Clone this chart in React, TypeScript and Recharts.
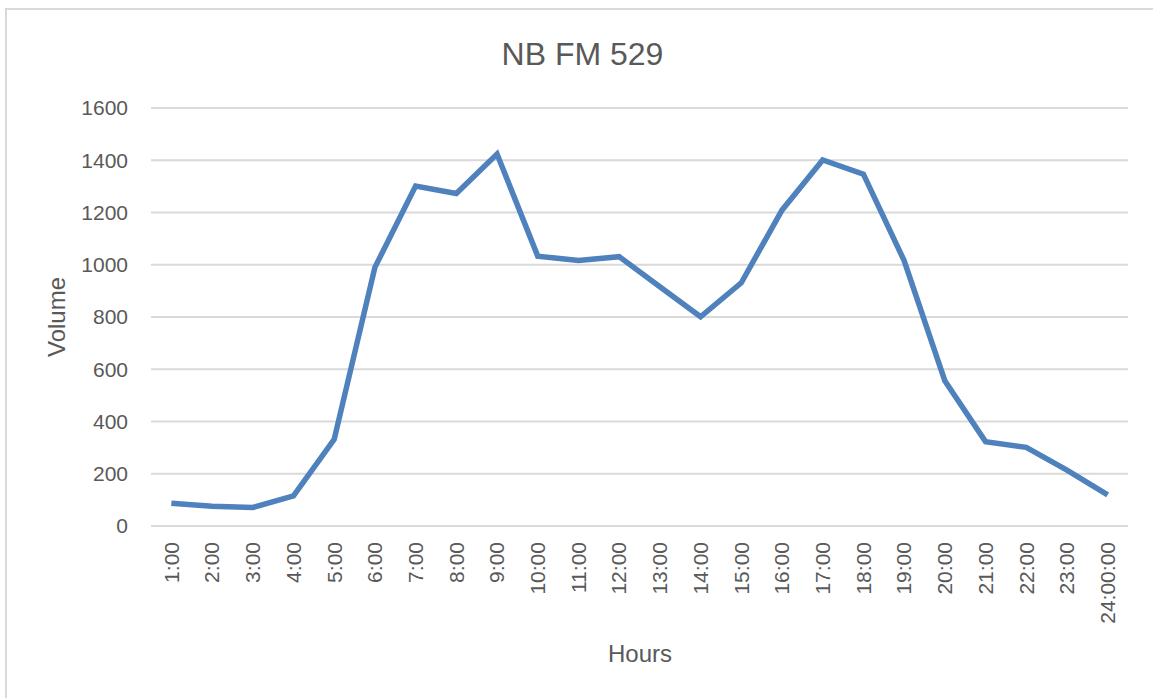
import React from 'react'
import { CartesianGrid, Line, LineChart, XAxis, YAxis } from 'recharts'

const hours = [
  '1:00', '2:00', '3:00', '4:00', '5:00', '6:00', '7:00', '8:00',
  '9:00', '10:00', '11:00', '12:00', '13:00', '14:00', '15:00', '16:00',
  '17:00', '18:00', '19:00', '20:00', '21:00', '22:00', '23:00', '24:00:00'
]

const volume = [
  87, 76, 71, 115, 332, 990, 1301, 1273,
  1424, 1033, 1016, 1031, 916, 801, 931, 1209,
  1401, 1347, 1016, 556, 323, 301, 214, 119
]

const yTicks = [0, 200, 400, 600, 800, 1000, 1200, 1400, 1600]

const data = hours.map((hour, i) => ({ hour, volume: volume[i] }))

const font = '"Liberation Sans", Arial, sans-serif'
const textColor = '#595959'
const gridColor = '#d9d9d9'
const lineColor = '#4f81bd'

const W = 1153
const H = 698
const margin = { top: 108, right: 25, bottom: 0, left: 0 }
// half a category step on each side, like Excel's "between tick marks"
const xPad = (W - margin.right - 151) / hours.length / 2

const XTick = ({ x, y, payload }: any) => (
  <text
    x={x}
    y={y}
    dy="0.35em"
    transform={`rotate(-90 ${x} ${y})`}
    textAnchor="end"
    fill={textColor}
    fontSize={21}
    fontFamily={font}
  >
    {payload.value}
  </text>
)

export default function App() {
  return (
    <div style={{ position: 'absolute', left: 0, top: 0, width: W, height: H, background: '#fff', overflow: 'hidden', fontFamily: font }}>
      <div style={{ position: 'absolute', left: 5, top: 8, width: W + 20, height: H + 20, border: `2px solid ${gridColor}` }} />
      <div style={{ position: 'absolute', left: 0, top: 0 }}>
        <LineChart width={W} height={H} data={data} margin={margin}>
          <CartesianGrid stroke={gridColor} strokeWidth={2} vertical={false} />
          <XAxis
            dataKey="hour"
            height={172}
            interval={0}
            padding={{ left: xPad, right: xPad }}
            axisLine={false}
            tickLine={false}
            tickSize={0}
            tickMargin={16}
            tick={<XTick />}
          />
          <YAxis
            width={151}
            domain={[0, 1600]}
            ticks={yTicks}
            axisLine={false}
            tickLine={false}
            tickSize={0}
            tickMargin={23}
            tick={{ fill: textColor, fontSize: 21, fontFamily: font }}
          />
          <Line
            type="linear"
            dataKey="volume"
            stroke={lineColor}
            strokeWidth={5.5}
            dot={false}
            isAnimationActive={false}
          />
        </LineChart>
      </div>
      <div style={{ position: 'absolute', left: 0, width: 1165, top: 34, textAlign: 'center', fontSize: 32, color: textColor, lineHeight: '40px' }}>
        NB FM 529
      </div>
      <div style={{ position: 'absolute', left: 57, top: 317, transform: 'translate(-50%, -50%) rotate(-90deg)', fontSize: 24, color: textColor, whiteSpace: 'nowrap', lineHeight: '28px' }}>
        Volume
      </div>
      <div style={{ position: 'absolute', left: 640, top: 654, transform: 'translate(-50%, -50%)', fontSize: 24, color: textColor, whiteSpace: 'nowrap', lineHeight: '28px' }}>
        Hours
      </div>
    </div>
  )
}
